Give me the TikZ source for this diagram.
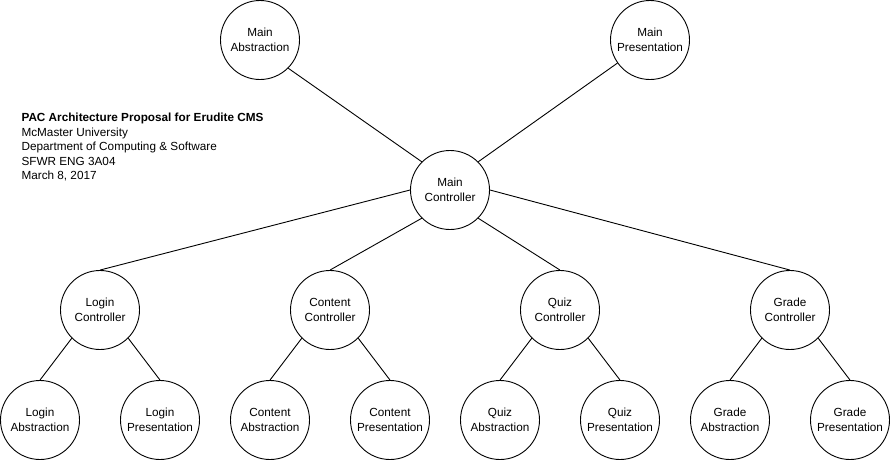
\documentclass[tikz,border=0pt]{standalone}
\usepackage{fontspec}
\setmainfont{Liberation Sans}
\usetikzlibrary{positioning}
\tikzset{pac/.style={draw,circle,minimum size=79pt,inner sep=0pt,align=center,font=\fontsize{11.75}{14.5}\selectfont,line width=0.9pt}}

\begin{document}
\begin{tikzpicture}[x=1pt,y=-1pt]
    \useasboundingbox (0,0) rectangle (891,461);
    \begin{scope}[shift={(0,0)}]
      \node[pac](ma)at(260,40){Main\\Abstraction};
      \node[pac](mp)at(650,40){Main\\Presentation};
      \node[pac](mc)at(450,190){Main\\Controller};
      \node[pac](lc)at(100,310){Login\\Controller};
      \node[pac](cc)at(330,310){Content\\Controller};
      \node[pac](qc)at(560,310){Quiz\\Controller};
      \node[pac](gc)at(790,310){Grade\\Controller};
      \node[pac](la)at(40,420){Login\\Abstraction};
      \node[pac](lp)at(160,420){Login\\Presentation};
      \node[pac](ca)at(270,420){Content\\Abstraction};
      \node[pac](cp)at(390,420){Content\\Presentation};
      \node[pac](qa)at(500,420){Quiz\\Abstraction};
      \node[pac](qp)at(620,420){Quiz\\Presentation};
      \node[pac](ga)at(730,420){Grade\\Abstraction};
      \node[pac](gp)at(850,420){Grade\\Presentation};
      \draw[line width=0.9pt](mc.north west)--(ma.south east);
      \draw[line width=0.9pt](mc.north east)--(mp);
      \foreach \m/\c/\a/\p in {west/lc/la/lp,south west/cc/ca/cp,south east/qc/qa/qp,east/gc/ga/gp}{
        \draw[line width=0.9pt](mc.\m)--(\c.north);
        \draw[line width=0.9pt](\c.south west)--(\a.north);
        \draw[line width=0.9pt](\c.south east)--(\p.north);
      }
      \node[right,align=left,font=\fontsize{11.75}{14.5}\selectfont](info)at(18,147){\textbf{PAC Architecture Proposal for Erudite CMS}\\McMaster University\\Department of Computing \& Software\\SFWR ENG 3A04\\March 8, 2017};
    \end{scope}
  \end{tikzpicture}
\end{document}
